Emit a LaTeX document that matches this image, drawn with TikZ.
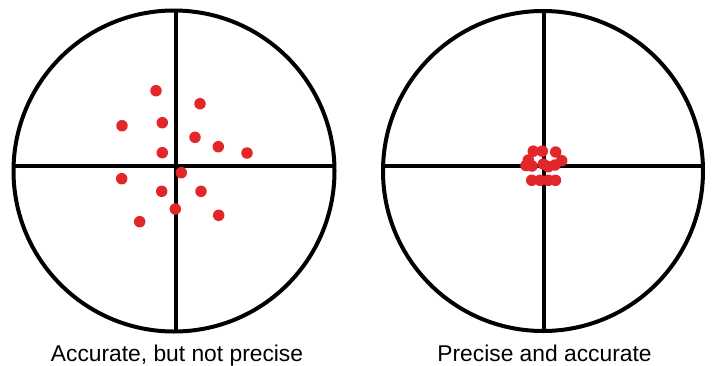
\documentclass[tikz,border=0pt]{standalone}
\usepackage{fontspec}
\setmainfont{Liberation Sans}
\definecolor{dotred}{HTML}{E3262A}
\begin{document}
\begin{tikzpicture}[x=1pt,y=-1pt,
  ring/.style={draw=black,line width=4pt},
  hair/.style={draw=black,line width=3.8pt},
  shot/.style={circle,fill=dotred,inner sep=0pt,minimum size=11.5pt},
  caption/.style={anchor=base,font=\fontsize{22.8}{26}\selectfont,inner sep=0pt}]
\useasboundingbox (0,0) rectangle (712,365);
% left target
\node[circle,minimum size=321pt,inner sep=0pt] (L) at (174,171) {};
\draw[ring] (L.center) circle[radius=160.5];
\coordinate (Lt) at (176,10); \coordinate (Lb) at (176,332);
\coordinate (Ll) at (14,166); \coordinate (Lr) at (334,166);
\draw[hair] (Lt) -- (Lb);
\draw[hair] (Ll) -- (Lr);
\foreach \i/\x/\y in {1/156/90.7,2/200/103.7,3/122/125.7,4/162.3/122.7,5/195/137.3,
  6/218.3/146.7,7/247/153,8/162.3/152.7,9/181.3/172.7,10/121.7/178.7,11/161.7/191.3,
  12/201/191.3,13/175.3/209,14/218.7/215.3,15/139.7/221.7}
  \node[shot] (l\i) at (\x,\y) {};
\node[caption] (lcap) at (177,361.5) {Accurate, but not precise};
% right target
\node[circle,minimum size=321pt,inner sep=0pt] (R) at (543,171) {};
\draw[ring] (R.center) circle[radius=160];
\coordinate (Rt) at (544,10); \coordinate (Rb) at (544,332);
\coordinate (Rl) at (383,166); \coordinate (Rr) at (703,166);
\draw[hair] (Rt) -- (Rb);
\draw[hair] (Rl) -- (Rr);
\foreach \i/\x/\y in {1/533.3/151.2,2/542.3/151.2,3/555.7/152,4/528.3/160,5/526/165.5,
  6/532/166,7/543.3/164,8/548.3/166.7,9/555/165,10/561.7/160.7,
  11/531.7/180.3,12/540/180.3,13/548.3/180.3,14/555.5/180.3}
  \node[shot] (r\i) at (\x,\y) {};
\node[caption] (rcap) at (544.5,361.5) {Precise and accurate};
\end{tikzpicture}
\end{document}
